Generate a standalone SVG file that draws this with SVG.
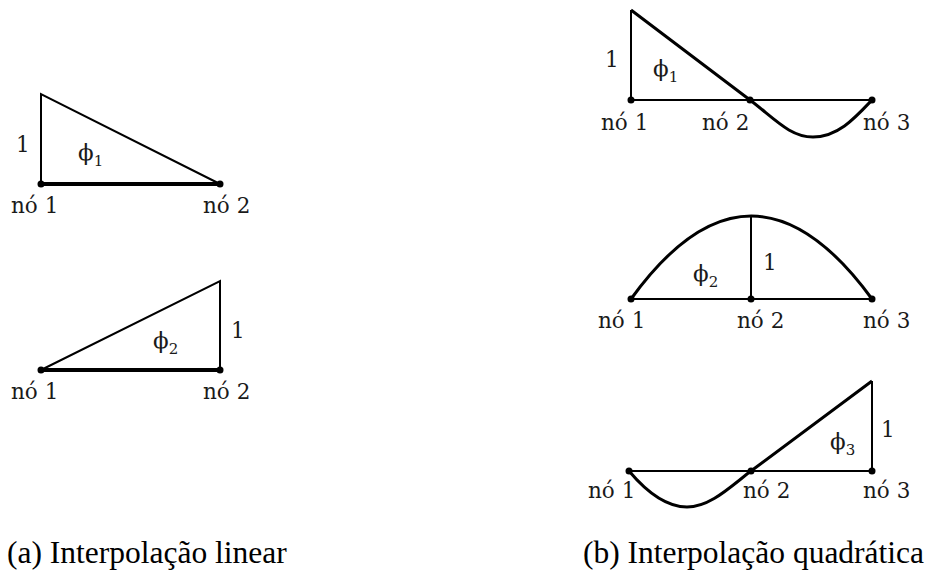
<svg xmlns="http://www.w3.org/2000/svg" width="933" height="572" viewBox="0 0 933 572">
<style>
.ln{fill:none;stroke:#000;stroke-width:2}
.thick{fill:none;stroke:#000;stroke-width:4}
.cv{fill:none;stroke:#000;stroke-width:3}
.dot{fill:#000}
</style>
<rect width="933" height="572" fill="#fff"/>
<g id="connectors">
<path class="ln" d="M41,184 L41,94 L220,184"/>
<path class="thick" d="M41,184 L220,184"/>
<path class="ln" d="M41,370 L220,281 L220,370"/>
<path class="thick" d="M41,370 L220,370"/>
<path class="ln" d="M631,100 L631,10 M631,100 L872,100"/>
<path class="cv" d="M631,10 L750,100 C775,119 790,137 813,137 C838,137 855,118 872,100"/>
<path class="ln" d="M631,299 L872,299 M751,299 L751,216"/>
<path class="cv" d="M631,299 Q751,133 872,299"/>
<path class="ln" d="M629,471 L872,471 L872,381"/>
<path class="cv" d="M629,471 C645,490 665,507 687,507 C710,507 730,487 751,471 L872,381"/>
</g>
<g id="node-lin1-n1"><circle class="dot" cx="41" cy="184" r="3.5"/><text font-family="DejaVu Serif" font-size="21.5" fill="#1a1a1a" x="11" y="213">nó 1</text></g>
<g id="node-lin1-n2"><circle class="dot" cx="220" cy="184" r="3.5"/><text font-family="DejaVu Serif" font-size="21.5" fill="#1a1a1a" x="203" y="213">nó 2</text></g>
<g id="label-lin1"><text font-family="DejaVu Serif" font-size="21.5" fill="#1a1a1a" x="16" y="152">1</text><text font-family="DejaVu Serif" font-size="23" fill="#1a1a1a" x="78" y="160">ϕ<tspan font-size="15" dy="6">1</tspan></text></g>
<g id="node-lin2-n1"><circle class="dot" cx="41" cy="370" r="3.5"/><text font-family="DejaVu Serif" font-size="21.5" fill="#1a1a1a" x="11" y="399">nó 1</text></g>
<g id="node-lin2-n2"><circle class="dot" cx="220" cy="370" r="3.5"/><text font-family="DejaVu Serif" font-size="21.5" fill="#1a1a1a" x="203" y="399">nó 2</text></g>
<g id="label-lin2"><text font-family="DejaVu Serif" font-size="21.5" fill="#1a1a1a" x="231" y="338">1</text><text font-family="DejaVu Serif" font-size="23" fill="#1a1a1a" x="153" y="348">ϕ<tspan font-size="15" dy="6">2</tspan></text></g>
<g id="node-q1-n1"><circle class="dot" cx="631" cy="100" r="3.5"/><text font-family="DejaVu Serif" font-size="21.5" fill="#1a1a1a" x="601" y="130">nó 1</text></g>
<g id="node-q1-n2"><circle class="dot" cx="750" cy="100" r="3.5"/><text font-family="DejaVu Serif" font-size="21.5" fill="#1a1a1a" x="702" y="130">nó 2</text></g>
<g id="node-q1-n3"><circle class="dot" cx="872" cy="100" r="3.5"/><text font-family="DejaVu Serif" font-size="21.5" fill="#1a1a1a" x="863" y="130">nó 3</text></g>
<g id="label-q1"><text font-family="DejaVu Serif" font-size="21.5" fill="#1a1a1a" x="605" y="67">1</text><text font-family="DejaVu Serif" font-size="23" fill="#1a1a1a" x="653" y="76">ϕ<tspan font-size="15" dy="6">1</tspan></text></g>
<g id="node-q2-n1"><circle class="dot" cx="631" cy="299" r="3.5"/><text font-family="DejaVu Serif" font-size="21.5" fill="#1a1a1a" x="598" y="328">nó 1</text></g>
<g id="node-q2-n2"><circle class="dot" cx="751" cy="299" r="3.5"/><text font-family="DejaVu Serif" font-size="21.5" fill="#1a1a1a" x="737" y="328">nó 2</text></g>
<g id="node-q2-n3"><circle class="dot" cx="872" cy="299" r="3.5"/><text font-family="DejaVu Serif" font-size="21.5" fill="#1a1a1a" x="863" y="328">nó 3</text></g>
<g id="label-q2"><text font-family="DejaVu Serif" font-size="21.5" fill="#1a1a1a" x="763" y="270">1</text><text font-family="DejaVu Serif" font-size="23" fill="#1a1a1a" x="693" y="281">ϕ<tspan font-size="15" dy="6">2</tspan></text></g>
<g id="node-q3-n1"><circle class="dot" cx="629" cy="471" r="3.5"/><text font-family="DejaVu Serif" font-size="21.5" fill="#1a1a1a" x="588" y="498">nó 1</text></g>
<g id="node-q3-n2"><circle class="dot" cx="751" cy="471" r="3.5"/><text font-family="DejaVu Serif" font-size="21.5" fill="#1a1a1a" x="743" y="498">nó 2</text></g>
<g id="node-q3-n3"><circle class="dot" cx="872" cy="471" r="3.5"/><text font-family="DejaVu Serif" font-size="21.5" fill="#1a1a1a" x="863" y="498">nó 3</text></g>
<g id="label-q3"><text font-family="DejaVu Serif" font-size="21.5" fill="#1a1a1a" x="881" y="437">1</text><text font-family="DejaVu Serif" font-size="23" fill="#1a1a1a" x="830" y="449">ϕ<tspan font-size="15" dy="6">3</tspan></text></g>
<g id="captions"><text font-family="Times New Roman" font-size="31.5" fill="#000" x="7" y="563">(a) Interpolação linear</text><text font-family="Times New Roman" font-size="31.5" fill="#000" x="583" y="563">(b) Interpolação quadrática</text></g>
</svg>
